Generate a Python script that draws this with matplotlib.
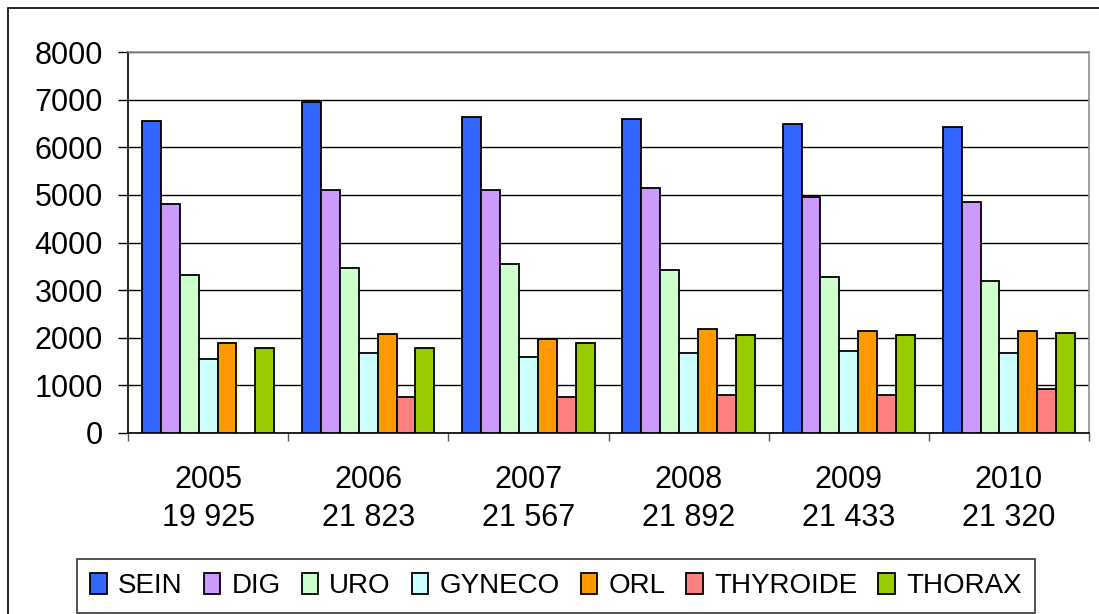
import numpy as np
import matplotlib.pyplot as plt
from matplotlib.patches import Rectangle

plt.rcParams['font.family'] = ['Liberation Sans', 'DejaVu Sans']

# ---- données ----
annees = ["2005", "2006", "2007", "2008", "2009", "2010"]
totaux = ["19 925", "21 823", "21 567", "21 892", "21 433", "21 320"]
sein = [6556, 6958, 6634, 6592, 6479, 6430]
dig = [4810, 5099, 5099, 5134, 4965, 4852]
uro = [3310, 3465, 3556, 3430, 3268, 3183]
gyneco = [1563, 1683, 1606, 1683, 1725, 1683]
orl = [1887, 2085, 1972, 2176, 2134, 2134]
thyroide = [np.nan, 761, 761, 803, 803, 915]
thorax = [1775, 1775, 1887, 2049, 2049, 2092]

series = [
    ("SEIN", sein, "#3366FF"),
    ("DIG", dig, "#CC99FF"),
    ("URO", uro, "#CCFFCC"),
    ("GYNECO", gyneco, "#CCFFFF"),
    ("ORL", orl, "#FF9900"),
    ("THYROIDE", thyroide, "#FF8080"),
    ("THORAX", thorax, "#99CC00"),
]

W, H = 1099, 614
fig = plt.figure(figsize=(W / 100, H / 100), dpi=100)

# cadre extérieur (ouvert à droite et en bas)
fig.patches.append(Rectangle((8 / W, -0.05), 1.2, 1 - 8 / H + 0.05,
                             transform=fig.transFigure, fill=False,
                             edgecolor='black', linewidth=1.2))

ax = fig.add_axes([128 / W, 1 - 433 / H, (1089 - 128) / W, (433 - 52) / H])

x = np.arange(len(annees))
largeur = 0.118
for i, (nom, vals, couleur) in enumerate(series):
    ax.bar(x + (i - 3) * largeur, vals, width=largeur, color=couleur,
           edgecolor='black', linewidth=1.3, label=nom, zorder=3)

ax.set_xlim(-0.5, len(annees) - 0.5)
ax.set_ylim(0, 8000)
ax.set_yticks(np.arange(0, 8001, 1000))
ax.yaxis.grid(True, color='black', linewidth=1, zorder=0)
ax.tick_params(axis='y', direction='out', length=7, width=1, pad=11, labelsize=22)

# étiquettes de catégories (année + total)
ax.set_xticks(x)
ax.set_xticklabels([f"{a}\n{t}" for a, t in zip(annees, totaux)], fontsize=22)
for lab in ax.get_xticklabels():
    lab.set_linespacing(1.35)
ax.tick_params(axis='x', which='major', length=0, pad=23)
ax.set_xticks(np.arange(-0.5, len(annees)), minor=True)
ax.tick_params(axis='x', which='minor', direction='out', length=6, width=1, color='#555555')

ax.spines['left'].set_color('black')
ax.spines['bottom'].set_color('black')
ax.spines['top'].set_color('#909090')
ax.spines['right'].set_color('#909090')
for s in ax.spines.values():
    s.set_linewidth(1.2)

leg = fig.legend(loc='center', ncol=7, bbox_to_anchor=(556 / W, 1 - 586 / H),
                 fontsize=20, frameon=True, fancybox=False, edgecolor='black',
                 handlelength=0.6, handleheight=0.8, handletextpad=0.4,
                 columnspacing=0.75, borderpad=0.5)
leg.get_frame().set_linewidth(1.2)

fig.savefig("out.png", dpi=100)
